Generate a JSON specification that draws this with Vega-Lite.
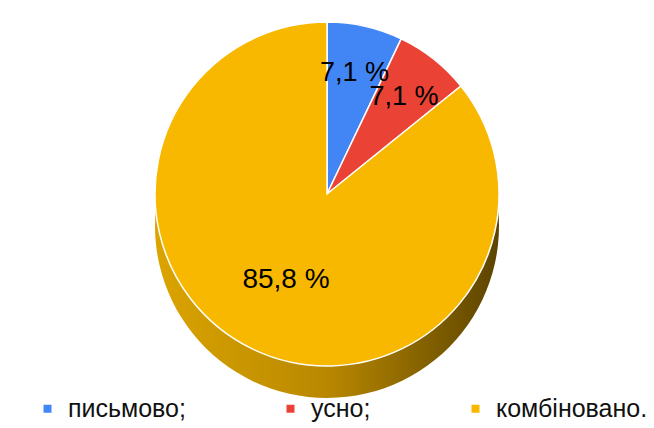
{
  "$schema": "https://vega.github.io/schema/vega-lite/v6.json",
  "width": 654,
  "height": 428,
  "autosize": {"type": "fit", "contains": "padding"},
  "padding": {"top": 10, "bottom": 50, "left": 5, "right": 5},
  "background": "white",
  "config": {"view": {"stroke": null}, "font": "Liberation Sans"},
  "data": {"values": [
    {"k": 1, "category": "письмово;", "value": 7.1, "label": "7,1 %"},
    {"k": 2, "category": "усно;", "value": 7.1, "label": "7,1 %"},
    {"k": 3, "category": "комбіновано.", "value": 85.8, "label": "85,8 %"}
  ]},
  "layer": [
    {
      "mark": {"type": "arc", "outerRadius": 172, "yOffset": 32,
        "color": {"gradient": "linear", "x1": 0, "y1": 0, "x2": 1, "y2": 0,
          "stops": [{"offset": 0, "color": "#DBA400"}, {"offset": 0.5, "color": "#B98800"}, {"offset": 1, "color": "#5C4400"}]}},
      "encoding": {
        "theta": {"field": "value", "type": "quantitative", "stack": true},
        "order": {"field": "k"}
      }
    },
    {
      "mark": {"type": "arc", "outerRadius": 172, "stroke": "white", "strokeWidth": 1.5},
      "encoding": {
        "theta": {"field": "value", "type": "quantitative", "stack": true},
        "order": {"field": "k"},
        "color": {"field": "category", "type": "nominal",
          "scale": {"domain": ["письмово;", "усно;", "комбіновано."], "range": ["#4285F4", "#EA4335", "#F8B800"]},
          "legend": {"orient": "none", "legendX": 30, "legendY": 386, "title": null, "symbolType": "square", "symbolSize": 64,
            "labelFontSize": 25, "labelColor": "#111", "labelFont": "Liberation Sans", "columnPadding": 92, "direction": "horizontal", "symbolStrokeWidth": 0, "labelOffset": 8}
        }
      }
    },
    {
      "mark": {"type": "text", "radius": 124, "fontSize": 27, "color": "black", "font": "Liberation Sans"},
      "encoding": {
        "theta": {"field": "value", "type": "quantitative", "stack": true},
        "order": {"field": "k"},
        "text": {"condition": {"test": "datum.k < 3", "field": "label"}, "value": ""}
      }
    },
    {
      "mark": {"type": "text", "radius": 95, "fontSize": 28, "color": "black", "font": "Liberation Sans"},
      "encoding": {
        "theta": {"field": "value", "type": "quantitative", "stack": true},
        "order": {"field": "k"},
        "text": {"condition": {"test": "datum.k == 3", "field": "label"}, "value": ""}
      }
    }
  ]
}
